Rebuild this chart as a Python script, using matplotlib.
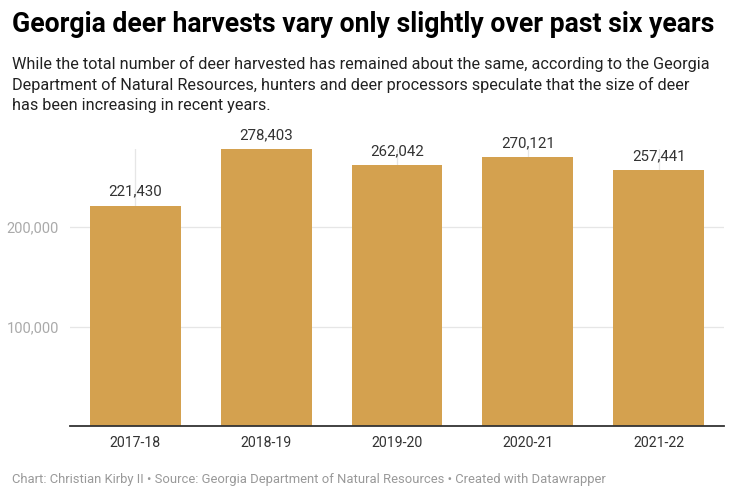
import matplotlib
matplotlib.use("Agg")
import matplotlib.pyplot as plt

seasons = ["2017-18", "2018-19", "2019-20", "2020-21", "2021-22"]
harvest = [221430, 278403, 262042, 270121, 257441]
yticks = [100000, 200000]
ytick_labels = ["100,000", "200,000"]

W, H = 738, 500
fig = plt.figure(figsize=(W / 100, H / 100), dpi=100)
plt.rcParams['font.family'] = ['Roboto', 'DejaVu Sans']

def px(x, y):
    return x / W, 1 - y / H

# axes: x from 70 to 724, y baseline at 426, top at 149
left, right, top, bottom = 70, 724, 149, 426
ax = fig.add_axes([left / W, 1 - bottom / H, (right - left) / W, (bottom - top) / H])
ymax = 278403
ax.set_ylim(0, ymax)
ax.set_xlim(-0.5, len(seasons) - 0.5)

for s in ax.spines.values():
    s.set_visible(False)
ax.axhline(0, color="#333333", lw=1.3, zorder=4, clip_on=False)
for t in yticks:
    ax.axhline(t, color="#e6e6e6", lw=0.9, zorder=0)
for i in range(len(seasons)):
    ax.axvline(i, color="#e6e6e6", lw=0.9, zorder=0)

bars = ax.bar(range(len(seasons)), harvest, width=0.695, color="#d4a14f", zorder=2)
for i, v in enumerate(harvest):
    ax.text(i, v + 7000, f"{v:,}", ha="center", va="bottom", fontsize=10.8, color="#333333")

ax.set_xticks(range(len(seasons)))
ax.set_xticklabels(seasons, fontsize=10.2, color="#333333")
ax.tick_params(axis="x", length=0, pad=7)
ax.set_yticks(yticks)
ax.set_yticklabels(ytick_labels, fontsize=10.5, color="#aaaaaa")
ax.tick_params(axis="y", length=0, pad=8)

fig.text(*px(12, 24), "Georgia deer harvests vary only slightly over past six years",
         fontsize=19.2, fontweight="bold", color="#000000", va="center", ha="left")
sub = ("While the total number of deer harvested has remained about the same, according to the Georgia\n"
       "Department of Natural Resources, hunters and deer processors speculate that the size of deer\n"
       "has been increasing in recent years.")
fig.text(*px(12, 56), sub, fontsize=11.7, color="#222222", va="top", ha="left", linespacing=1.38)
fig.text(*px(12, 480), "Chart: Christian Kirby II • Source: Georgia Department of Natural Resources • Created with Datawrapper",
         fontsize=9.35, color="#999999", va="center", ha="left")

fig.savefig("out.png", dpi=100)
